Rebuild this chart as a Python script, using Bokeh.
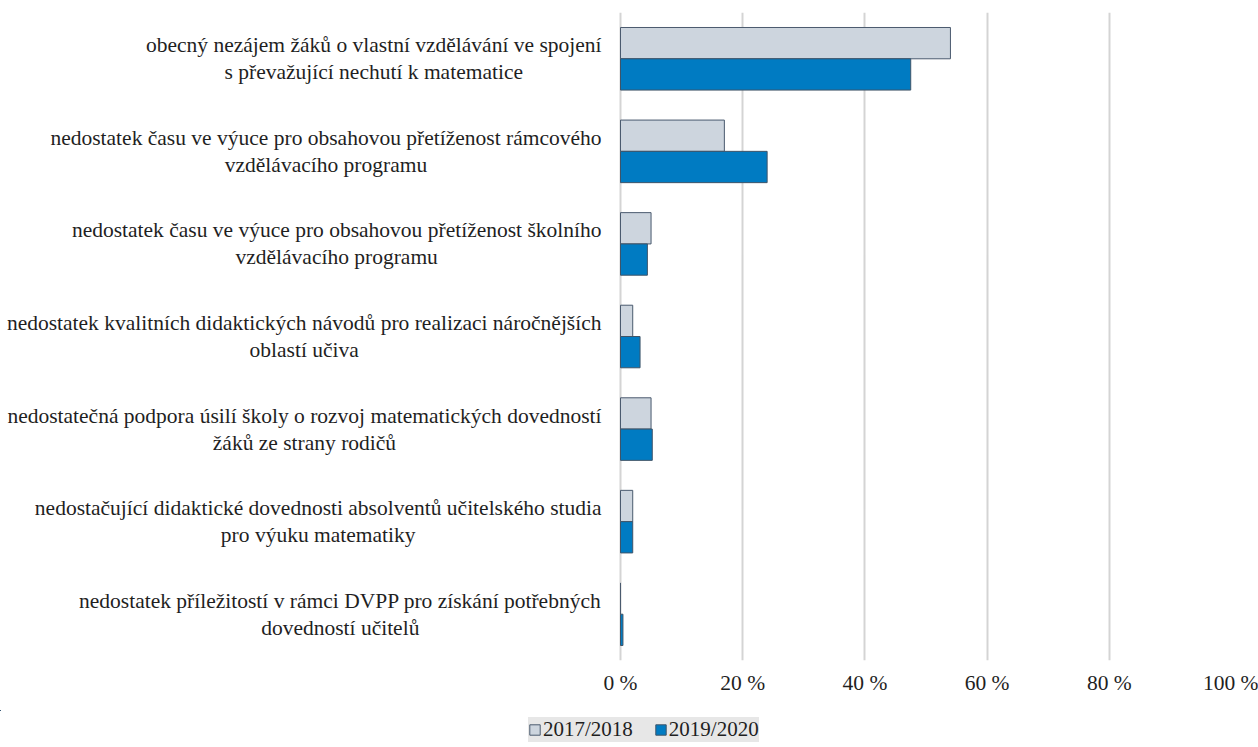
from bokeh.plotting import figure
from bokeh.layouts import column
from bokeh.models import ColumnDataSource, Range1d, FixedTicker, Legend, LegendItem
from bokeh.embed import file_html
from bokeh.resources import INLINE

categories = [
    "obecný nezájem žáků o vlastní vzdělávání ve spojení\ns převažující nechutí k matematice",
    "nedostatek času ve výuce pro obsahovou přetíženost rámcového\nvzdělávacího programu",
    "nedostatek času ve výuce pro obsahovou přetíženost školního\nvzdělávacího programu",
    "nedostatek kvalitních didaktických návodů pro realizaci náročnějších\noblastí učiva",
    "nedostatečná podpora úsilí školy o rozvoj matematických dovedností\nžáků ze strany rodičů",
    "nedostačující didaktické dovednosti absolventů učitelského studia\npro výuku matematiky",
    "nedostatek příležitostí v rámci DVPP pro získání potřebných\ndovedností učitelů",
]
v2017 = [54, 17, 5, 2, 5, 2, 0]
v2019 = [47.5, 24, 4.4, 3.2, 5.2, 2, 0.4]
series_names = ["2017/2018", "2019/2020"]
x_ticks = [0, 20, 40, 60, 80, 100]
x_tick_labels = ["0 %", "20 %", "40 %", "60 %", "80 %", "100 %"]

FONT = "Liberation Serif"
TEXT_COLOR = "#1f1f1f"
C2017, L2017 = "#cdd5de", "#4a5a6e"
C2019, L2019 = "#007bc2", "#3f5468"
n = len(categories)
pos = list(range(n))
bar_h = 0.338

# layout: label area left of 0 %, then 611 px for 0..100 %
label_px = 620
data_px = 611
x_start = -label_px * 100 / data_px

src_a = ColumnDataSource(dict(y=[p_ - bar_h / 2 for p_ in pos], v=v2017))
src_b = ColumnDataSource(dict(y=[p_ + bar_h / 2 for p_ in pos], v=v2019))
src_lab = ColumnDataSource(dict(x=[0] * n, y=pos, t=categories))

p = figure(
    frame_width=label_px + data_px, frame_height=648,
    x_range=Range1d(x_start, 100), y_range=Range1d(n - 0.5, -0.5),
    output_backend="svg", toolbar_location=None, y_axis_location=None,
    min_border_left=0, min_border_right=27, min_border_top=12, min_border_bottom=50,
)
p.outline_line_color = None

ra = p.hbar(y="y", right="v", left=0, height=bar_h, source=src_a,
            fill_color=C2017, line_color=L2017, line_width=1)
rb = p.hbar(y="y", right="v", left=0, height=bar_h, source=src_b,
            fill_color=C2019, line_color=L2019, line_width=1)

p.text(x="x", y="y", text="t", source=src_lab, x_offset=-19,
       anchor="center_right", text_align="center", text_baseline="middle",
       text_font={"value": FONT}, text_font_size="21.5px", text_color=TEXT_COLOR,
       text_line_height=1.12)

xa = p.xaxis[0]
xa.ticker = FixedTicker(ticks=x_ticks)
xa.major_label_overrides = {t: l for t, l in zip(x_ticks, x_tick_labels)}
xa.axis_line_color = None
xa.major_tick_line_color = None
xa.minor_tick_line_color = None
xa.major_tick_out = 0
xa.major_label_text_font = FONT
xa.major_label_text_font_size = "21.5px"
xa.major_label_text_color = TEXT_COLOR
xa.major_label_standoff = 10

p.ygrid.grid_line_color = None
p.xgrid.ticker = FixedTicker(ticks=x_ticks)
p.xgrid.grid_line_color = "#d4d4d4"
p.xgrid.grid_line_width = 2

# legend strip (the same series drawn out of view, only their legend swatches show)
p2 = figure(
    frame_width=label_px + data_px, frame_height=45,
    x_range=Range1d(1000, 1100), y_range=Range1d(-100, -99),
    output_backend="svg", toolbar_location=None,
    x_axis_location=None, y_axis_location=None,
    min_border_left=0, min_border_right=27, min_border_top=0, min_border_bottom=0,
)
p2.outline_line_color = None
p2.grid.visible = False
la = p2.hbar(y="y", right="v", left=0, height=bar_h, source=src_a,
             fill_color=C2017, line_color=L2017, line_width=1)
lb = p2.hbar(y="y", right="v", left=0, height=bar_h, source=src_b,
             fill_color=C2019, line_color=L2019, line_width=1)
legend = Legend(
    items=[LegendItem(label=series_names[0], renderers=[la], index=0),
           LegendItem(label=series_names[1], renderers=[lb], index=0)],
    orientation="horizontal", location=(528, 13),
    background_fill_color="#e7e7e7", background_fill_alpha=1,
    border_line_color=None,
    label_text_font=FONT, label_text_font_size="21px", label_text_color=TEXT_COLOR,
    glyph_width=13, glyph_height=13, label_standoff=2, spacing=21,
    padding=6, margin=0,
)
p2.add_layout(legend, "center")

lay = column(p, p2, spacing=0)
open("out.html", "w").write(file_html(lay, INLINE))
